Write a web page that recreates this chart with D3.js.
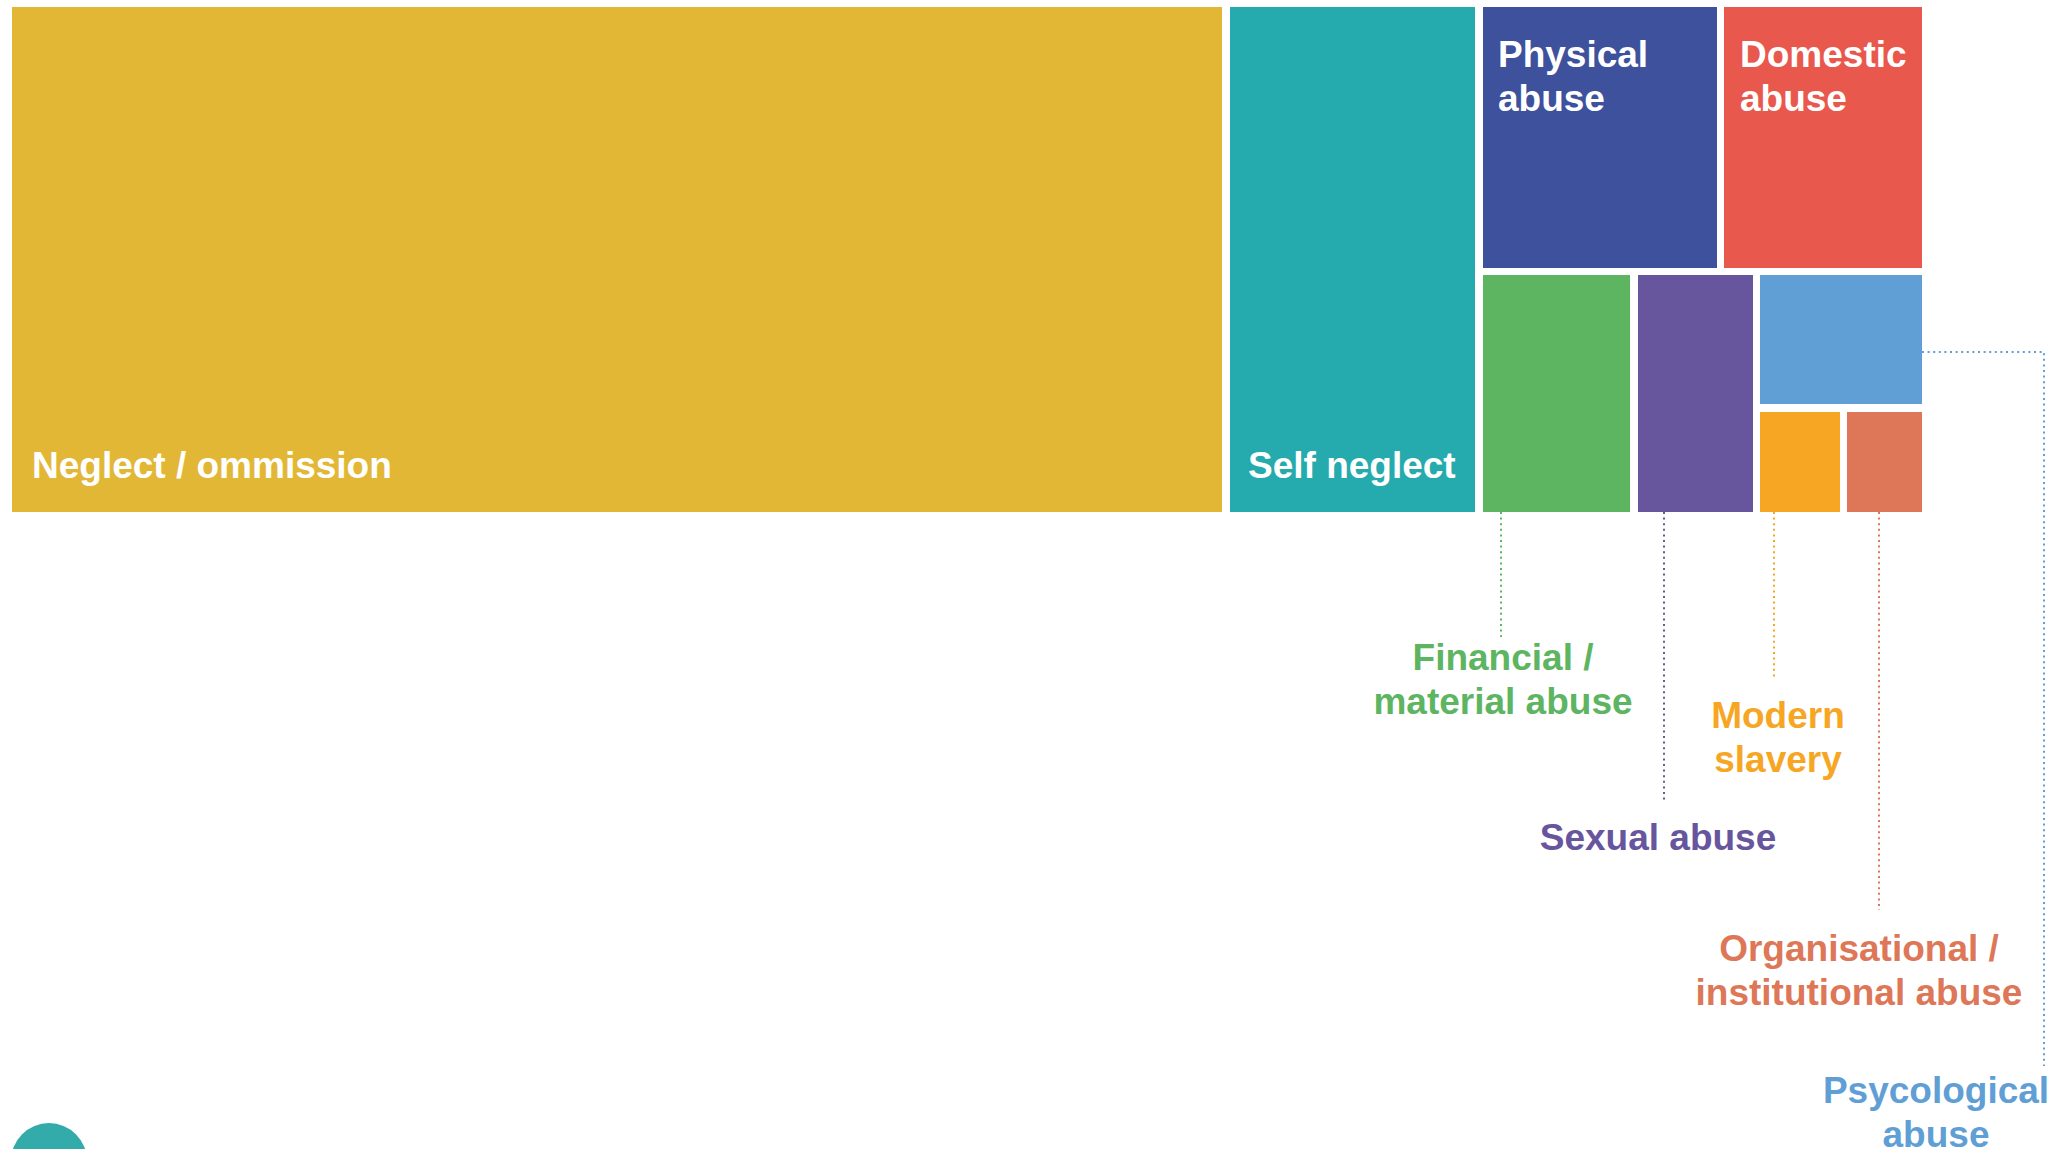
<!DOCTYPE html>
<html>
<head>
<meta charset="utf-8">
<script src="https://cdn.jsdelivr.net/npm/d3@7"></script>
<style>
  body { margin: 0; background: #fff; }
  svg { display: block; font-family: "Liberation Sans", Arial, Helvetica, sans-serif; font-weight: bold; }
</style>
</head>
<body>
<svg id="chart" width="2069" height="1149"></svg>
<script>
// share of concerns by type of abuse (%)
const categories = ['Neglect / ommission', 'Self neglect', 'Physical abuse', 'Domestic abuse',
    'Financial / material abuse', 'Sexual abuse', 'Psycological abuse', 'Modern slavery',
    'Organisational / institutional abuse'];
const values = [63.5, 13.2, 6.6, 5.6, 3.85, 3.05, 2.35, 0.95, 0.9];
// nesting used by the slice / dice layout (which block sits inside which)
const groups = ['', '', 'a/r1', 'a/r1', 'a/r2', 'a/r2', 'a/r2/b', 'a/r2/b/c', 'a/r2/b/c'];
const colors = ['#E2B736', '#25AAAD', '#3D519C', '#E9584D', '#5DB562', '#67559E', '#5F9FD5', '#F6A623', '#DD7758'];

// how each label is placed
const LABELS = {
    'Neglect / ommission': { mode: 'bottom', dx: 20, dy: -34, lines: ['Neglect / ommission'] },
    'Self neglect': { mode: 'bottom', dx: 18, dy: -34, lines: ['Self neglect'] },
    'Physical abuse': { mode: 'top', dx: 15, dy: 60, lines: ['Physical', 'abuse'] },
    'Domestic abuse': { mode: 'top', dx: 16, dy: 60, lines: ['Domestic', 'abuse'] },
    'Financial / material abuse': { mode: 'below', lineDx: 18, lineEnd: 637, tx: 1503, ty: 670, lines: ['Financial /', 'material abuse'] },
    'Sexual abuse': { mode: 'below', lineDx: 26, lineEnd: 801, tx: 1658, ty: 850, lines: ['Sexual abuse'] },
    'Modern slavery': { mode: 'below', lineDx: 14, lineEnd: 680, tx: 1778, ty: 728, lines: ['Modern', 'slavery'] },
    'Organisational / institutional abuse': { mode: 'below', lineDx: 32, lineEnd: 910, tx: 1859, ty: 961, lines: ['Organisational /', 'institutional abuse'] },
    'Psycological abuse': { mode: 'side', lineDy: 77, lineX: 2044, lineEnd: 1066, tx: 1936, ty: 1103, lines: ['Psycological', 'abuse'] }
}

const DIM = { left: 12, top: 7, width: 1910, height: 505, pad: 7.5, lineHeight: 44, fontSize: 37 }

const svg = d3.select('#chart')

const rows = categories.map((c, i) => ({
    name: c,
    value: values[i],
    color: colors[i],
    path: 'root/' + (groups[i] ? groups[i] + '/' : '') + i
}))

const root = d3.stratify().path(d => d.path)(rows)
    .sum(d => (d && d.value) || 0)

d3.treemap()
    .tile(d3.treemapSliceDice)
    .size([DIM.width, DIM.height])
    .paddingInner(DIM.pad)
    .round(true)(root)

const g = svg.append('g')
    .attr('transform', `translate(${DIM.left}, ${DIM.top})`)

const leaves = root.leaves()

g.selectAll('.cell')
    .data(leaves)
    .join('rect')
    .attr('class', 'cell')
    .attr('x', d => d.x0)
    .attr('y', d => d.y0)
    .attr('width', d => d.x1 - d.x0)
    .attr('height', d => d.y1 - d.y0)
    .attr('fill', d => d.data.color)

// leader lines for the small boxes
const lineGen = d3.line()
leaves.forEach(d => {
    const lab = LABELS[d.data.name]
    let pts = null
    if (lab.mode === 'below') {
        const x = d.x0 + lab.lineDx
        pts = [[x, d.y1], [x, lab.lineEnd - DIM.top]]
    } else if (lab.mode === 'side') {
        const y = d.y0 + lab.lineDy
        pts = [[d.x1, y], [lab.lineX - DIM.left, y], [lab.lineX - DIM.left, lab.lineEnd - DIM.top]]
    }
    if (pts) {
        g.append('path')
            .attr('d', lineGen(pts))
            .attr('fill', 'none')
            .attr('stroke', d.data.color)
            .attr('stroke-width', 2)
            .attr('stroke-dasharray', '2 3.6')
    }
})

// labels
leaves.forEach(d => {
    const lab = LABELS[d.data.name]
    let x, y, anchor = 'start', fill = '#fff'
    if (lab.mode === 'bottom') {
        x = d.x0 + lab.dx
        y = d.y1 + lab.dy - (lab.lines.length - 1) * DIM.lineHeight
    } else if (lab.mode === 'top') {
        x = d.x0 + lab.dx
        y = d.y0 + lab.dy
    } else {
        x = lab.tx - DIM.left
        y = lab.ty - DIM.top
        anchor = 'middle'
        fill = d.data.color
    }
    const t = g.append('text')
        .attr('x', x)
        .attr('y', y)
        .attr('text-anchor', anchor)
        .attr('fill', fill)
        .style('font-size', DIM.fontSize + 'px')
    t.selectAll('tspan')
        .data(lab.lines)
        .join('tspan')
        .attr('x', x)
        .attr('dy', (s, i) => i === 0 ? 0 : DIM.lineHeight)
        .text(s => s)
})

// page marker peeking in at the bottom left
svg.append('circle')
    .attr('cx', 49)
    .attr('cy', 1161)
    .attr('r', 38)
    .attr('fill', '#33ABAB')
</script>
</body>
</html>
